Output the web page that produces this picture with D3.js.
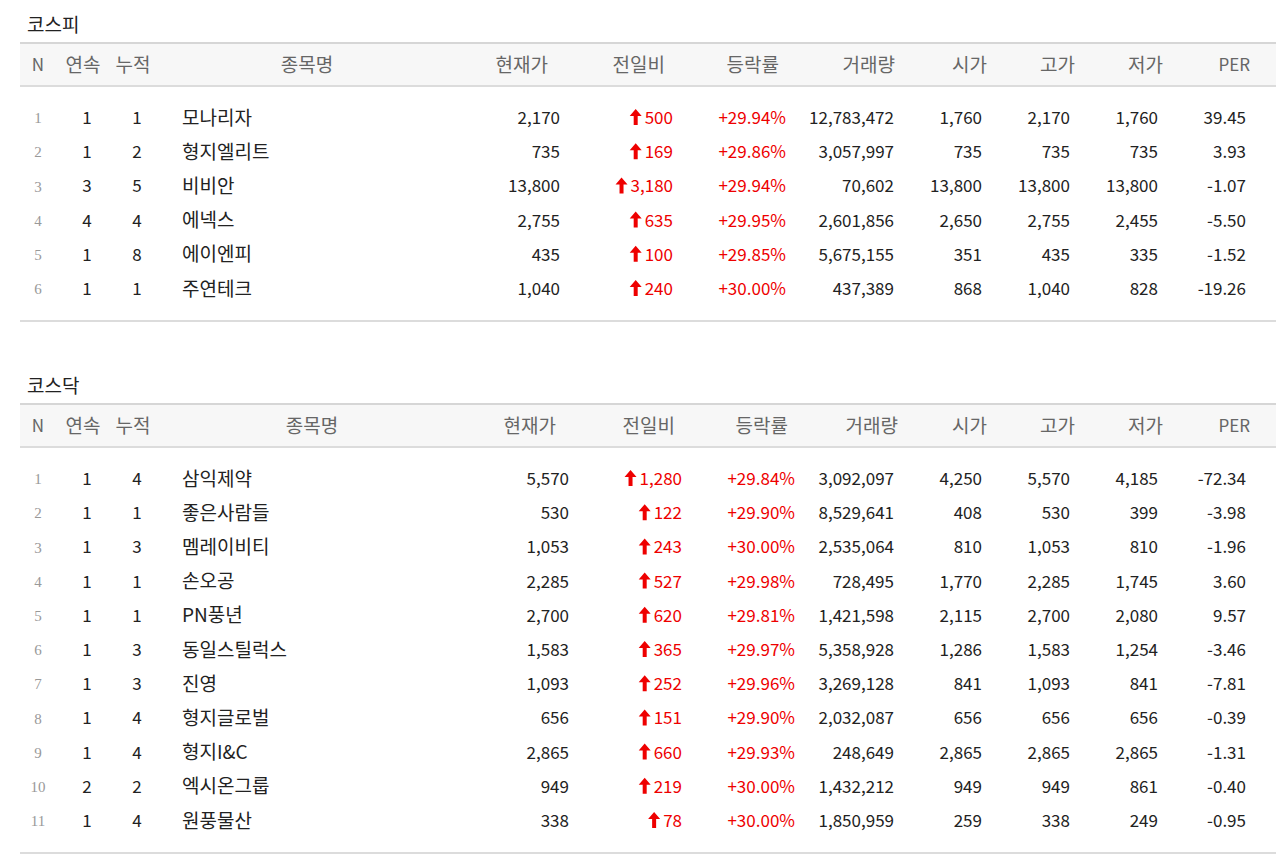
<!DOCTYPE html>
<html><head><meta charset="utf-8">
<script src="https://cdn.jsdelivr.net/npm/d3@7"></script>
<style>body{margin:0;background:#fff}svg{font-family:"Noto Sans CJK KR","Noto Sans",sans-serif}</style>
</head><body><svg id="c" width="1280" height="861"></svg>
<script>
const headers = ['N','연속','누적','종목명','현재가','전일비','등락률','거래량','시가','고가','저가','PER'];

const kospiRows = [
  [1,1,1,'모나리자','2,170','500','+29.94%','12,783,472','1,760','2,170','1,760','39.45'],
  [2,1,2,'형지엘리트','735','169','+29.86%','3,057,997','735','735','735','3.93'],
  [3,3,5,'비비안','13,800','3,180','+29.94%','70,602','13,800','13,800','13,800','-1.07'],
  [4,4,4,'에넥스','2,755','635','+29.95%','2,601,856','2,650','2,755','2,455','-5.50'],
  [5,1,8,'에이엔피','435','100','+29.85%','5,675,155','351','435','335','-1.52'],
  [6,1,1,'주연테크','1,040','240','+30.00%','437,389','868','1,040','828','-19.26']
];
const kosdaqRows = [
  [1,1,4,'삼익제약','5,570','1,280','+29.84%','3,092,097','4,250','5,570','4,185','-72.34'],
  [2,1,1,'좋은사람들','530','122','+29.90%','8,529,641','408','530','399','-3.98'],
  [3,1,3,'멤레이비티','1,053','243','+30.00%','2,535,064','810','1,053','810','-1.96'],
  [4,1,1,'손오공','2,285','527','+29.98%','728,495','1,770','2,285','1,745','3.60'],
  [5,1,1,'PN풍년','2,700','620','+29.81%','1,421,598','2,115','2,700','2,080','9.57'],
  [6,1,3,'동일스틸럭스','1,583','365','+29.97%','5,358,928','1,286','1,583','1,254','-3.46'],
  [7,1,3,'진영','1,093','252','+29.96%','3,269,128','841','1,093','841','-7.81'],
  [8,1,4,'형지글로벌','656','151','+29.90%','2,032,087','656','656','656','-0.39'],
  [9,1,4,'형지I&C','2,865','660','+29.93%','248,649','2,865','2,865','2,865','-1.31'],
  [10,2,2,'엑시온그룹','949','219','+30.00%','1,432,212','949','949','861','-0.40'],
  [11,1,4,'원풍물산','338','78','+30.00%','1,850,959','259','338','249','-0.95']
];

const svg = d3.select('#c');

function drawTable(title, rows, top, valX, headX) {
  const g = svg.append('g').attr('transform', `translate(0,${top})`);
  g.append('text').attr('x', 27).attr('y', 0).attr('dy', '0.35em')
    .attr('font-size', 19).attr('fill', '#222').text(title);
  g.append('rect').attr('x', 20).attr('y', 18).attr('width', 1256).attr('height', 43).attr('fill', '#f7f7f7');
  g.append('line').attr('x1', 20).attr('x2', 1276).attr('y1', 18).attr('y2', 18).attr('stroke', '#d6d6d6').attr('stroke-width', 2);
  g.append('line').attr('x1', 20).attr('x2', 1276).attr('y1', 61).attr('y2', 61).attr('stroke', '#dcdcdc').attr('stroke-width', 2);

  const anchors = ['middle','middle','middle','middle','end','end','end','end','end','end','end','end'];
  g.selectAll('text.h').data(headers).join('text').attr('class', 'h')
    .attr('x', (d, i) => headX[i]).attr('y', 40).attr('dy', '0.35em')
    .attr('text-anchor', (d, i) => anchors[i])
    .attr('font-size', (d, i) => i === 0 || i === 11 ? 17 : 19).attr('fill', '#666').text(d => d);

  const y = d3.scaleLinear().domain([0, 1]).range([93, 127.2]);
  const rg = g.selectAll('g.r').data(rows).join('g').attr('class', 'r')
    .attr('transform', (d, i) => `translate(0,${y(i)})`);

  const rowAnch = ['middle','middle','middle','start','end','end','end','end','end','end','end','end'];
  rg.each(function (row) {
    const r = d3.select(this);
    row.forEach((v, i) => {
      const t = r.append('text').attr('x', valX[i]).attr('dy', '0.35em')
        .attr('text-anchor', rowAnch[i]).attr('font-size', i === 3 ? 19 : 17)
        .attr('fill', i === 0 ? '#999' : (i === 5 || i === 6) ? '#e00' : '#222')
        .text(v);
      if (i === 0) t.attr('font-family', '"Liberation Serif",serif').attr('font-size', 15);
      if (i === 5) {
        const w = t.node().getComputedTextLength();
        const ax = valX[i] - w - 9;
        r.append('path').attr('fill', '#e00')
          .attr('d', `M${ax},-9 L${ax + 6},-2 L${ax + 2},-2 L${ax + 2},7 L${ax - 2},7 L${ax - 2},-2 L${ax - 6},-2 Z`);
      }
    });
  });

  const bottom = y(rows.length - 1) + 32;
  g.append('line').attr('x1', 20).attr('x2', 1276).attr('y1', bottom).attr('y2', bottom).attr('stroke', '#dcdcdc').attr('stroke-width', 2);
}

drawTable('코스피', kospiRows, 25,
  [38, 87, 137, 182, 560, 673, 786, 894, 982, 1070, 1158, 1246],
  [38, 83, 133, 307, 548, 665, 779, 895, 987, 1075, 1163, 1250]);
drawTable('코스닥', kosdaqRows, 386,
  [38, 87, 137, 182, 569, 682, 795, 894, 982, 1070, 1158, 1246],
  [38, 83, 133, 312, 556, 675, 788, 898, 987, 1075, 1163, 1250]);
</script></body></html>
